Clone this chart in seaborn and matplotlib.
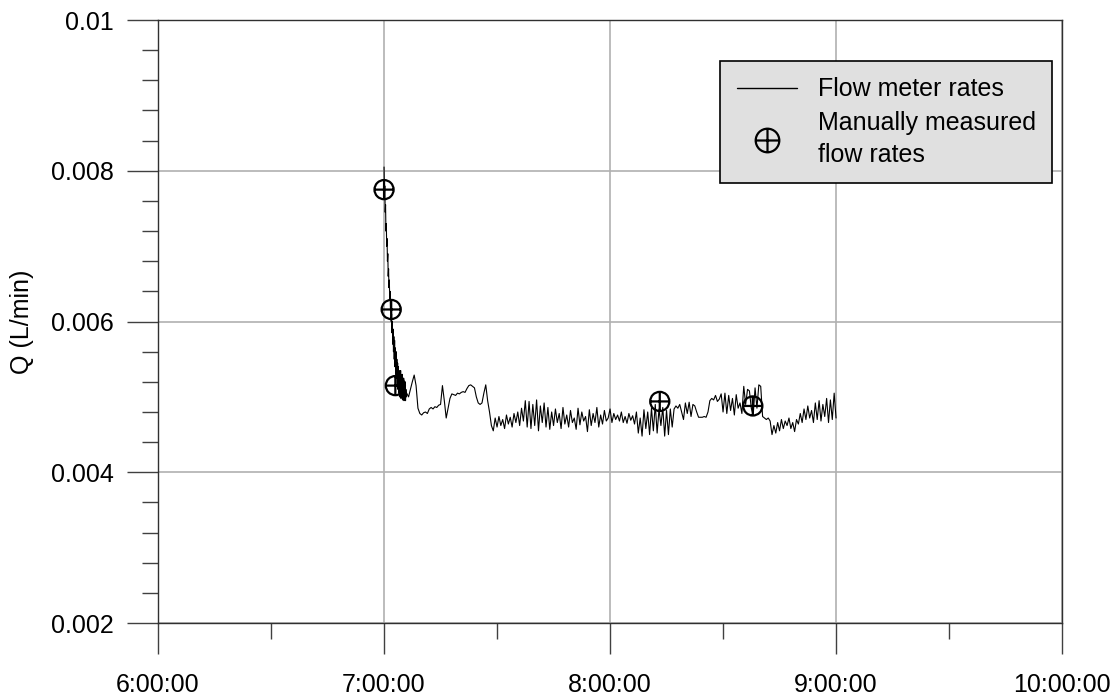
import numpy as np
import pandas as pd
import matplotlib
matplotlib.use("Agg")
import matplotlib.pyplot as plt
from matplotlib.path import Path
from matplotlib.lines import Line2D
import seaborn as sns

# ---------------- data ----------------
# flow meter: dense early samples (every 0.1 min from 7:00:00), Q in 1e-3 L/min
meter_early_step_min = 0.1
meter_early = [8.05, 7.70, 7.80, 7.45, 7.55, 7.20, 7.30, 7.00, 7.10, 6.80,
               6.90, 6.60, 6.70, 6.45, 6.55, 6.30, 6.40, 6.15, 6.25, 6.00,
               6.10, 5.85, 6.00, 5.70, 5.90, 5.60, 5.80, 5.50, 5.75, 5.40,
               5.65, 5.30, 5.60, 5.25, 5.50, 5.15, 5.45, 5.10, 5.40, 5.05,
               5.35, 5.00, 5.30, 5.05, 5.35, 4.98, 5.25, 5.02, 5.30, 4.96,
               5.20, 5.00, 5.25, 4.95, 5.15, 5.00, 5.20, 4.95, 5.10, 5.00,
               5.05]
# flow meter: later samples every 0.5 min starting 7:06:30, Q in 1e-3 L/min
meter_late_start_min = 6.5
meter_late_step_min = 0.5
meter_late = [
    5.00, 5.10, 5.20, 5.29, 5.15, 4.85, 4.78, 4.76, 4.79, 4.80,
    4.78, 4.84, 4.86, 4.84, 4.87, 4.86, 4.89, 4.90, 5.15, 4.95,
    4.72, 4.85, 4.98, 5.04, 5.03, 5.02, 5.05, 5.04, 5.06, 5.07,
    5.06, 5.11, 5.15, 5.16, 5.14, 5.12, 5.00, 4.92, 4.90, 4.92,
    5.05, 5.16, 4.95, 4.80, 4.62,
    4.55, 4.72, 4.60, 4.74, 4.62, 4.70, 4.58, 4.76, 4.64, 4.73,
    4.60, 4.78, 4.66, 4.80, 4.62, 4.85, 4.68, 4.95, 4.60,
    4.94, 4.58, 4.90, 4.62, 4.96, 4.55, 4.88, 4.66, 4.92, 4.60,
    4.86, 4.57, 4.80, 4.62,
    4.84, 4.66, 4.78, 4.58, 4.86, 4.64, 4.76, 4.60, 4.82, 4.66,
    4.72, 4.57, 4.85, 4.63, 4.80, 4.68, 4.74, 4.54, 4.83, 4.62,
    4.78, 4.66, 4.86, 4.60, 4.76, 4.64, 4.82, 4.68, 4.72,
    4.84, 4.66, 4.78, 4.70, 4.76, 4.68, 4.80, 4.66, 4.74, 4.65,
    4.78, 4.69, 4.75, 4.64,
    4.80, 4.52, 4.72, 4.48, 4.83, 4.58, 4.80, 4.50, 4.85, 4.55,
    4.90, 4.52, 4.84, 4.62, 4.86, 4.48, 4.82, 4.50, 4.84, 4.60,
    4.84, 4.88, 4.85, 4.90, 4.80, 4.70, 4.92, 4.78, 4.93, 4.74,
    4.90, 4.88, 4.80, 4.73, 4.73, 4.73, 4.74, 4.73, 4.80,
    4.95, 4.98, 4.96, 5.02, 4.94, 4.97, 5.04, 4.80, 5.05, 4.78,
    5.02, 4.82, 4.98, 4.76, 5.03, 4.85, 4.92, 4.78,
    5.14, 4.90, 5.10, 5.08, 4.85, 4.76, 5.12, 4.85, 5.16, 5.14,
    4.74,
    4.72, 4.70, 4.72, 4.68, 4.50, 4.62, 4.52, 4.66, 4.55, 4.70,
    4.58, 4.68, 4.62, 4.72, 4.58, 4.66, 4.54, 4.70, 4.64,
    4.78, 4.66, 4.84, 4.70, 4.88, 4.72, 4.82, 4.66, 4.92, 4.70,
    4.95, 4.68, 4.90, 4.74, 4.98, 4.66, 4.96, 4.70, 5.05, 4.72,
]
# manually measured flow rates (minutes after 7:00:00, Q in 1e-3 L/min)
manual_min = [0.0, 1.9, 3.0, 73.2, 97.9]
manual_q = [7.75, 6.16, 5.15, 4.94, 4.88]

x_tick_vals = [6, 7, 8, 9, 10]
x_tick_labels = ["6:00:00", "7:00:00", "8:00:00", "9:00:00", "10:00:00"]
y_tick_vals = [0.002, 0.004, 0.006, 0.008, 0.01]
y_tick_labels = ["0.002", "0.004", "0.006", "0.008", "0.01"]

# ---------------- frames ----------------
t_early = meter_early_step_min * np.arange(len(meter_early))
t_late = meter_late_start_min + meter_late_step_min * np.arange(len(meter_late))
meter = pd.DataFrame({
    "hour": 7 + np.concatenate([t_early, t_late]) / 60.0,
    "Q": np.array(meter_early + meter_late) * 1e-3,
})
manual = pd.DataFrame({
    "hour": 7 + np.array(manual_min) / 60.0,
    "Q": np.array(manual_q) * 1e-3,
})

# ---------------- style ----------------
sns.set_style("white")
plt.rcParams["font.family"] = ["Liberation Sans", "DejaVu Sans"]
plt.rcParams["font.size"] = 18
for k in ["text.color", "axes.labelcolor", "xtick.labelcolor", "ytick.labelcolor"]:
    plt.rcParams[k] = "black"

fig = plt.figure(figsize=(11.17, 6.98), dpi=100)
ax = fig.add_axes([0.1415, 0.1074, 0.8093, 0.8639])

oplus = Path.make_compound_path(
    Path.unit_circle(),
    Path([[-1, 0], [1, 0]], [Path.MOVETO, Path.LINETO]),
    Path([[0, -1], [0, 1]], [Path.MOVETO, Path.LINETO]),
)

sns.lineplot(data=meter, x="hour", y="Q", ax=ax, color="black",
             linewidth=0.8, estimator=None, sort=False, legend=False, zorder=3)
sns.scatterplot(data=manual, x="hour", y="Q", ax=ax, marker=oplus, s=190,
                facecolors="none", edgecolor="black", linewidth=1.6,
                legend=False, zorder=4)

ax.set_xlim(6, 10)
ax.set_ylim(0.002, 0.01)
ax.set_xticks(x_tick_vals)
ax.set_xticklabels(x_tick_labels)
ax.set_xticks([6.5, 7.5, 8.5, 9.5], minor=True)
ax.set_yticks(y_tick_vals)
ax.set_yticklabels(y_tick_labels)
ax.set_yticks(np.arange(0.0024, 0.01, 0.0004), minor=True)

ax.tick_params(axis="both", which="both", bottom=True, left=True,
               top=False, right=False)
ax.tick_params(axis="both", which="major", direction="out", length=22,
               width=1.0, color="#404040", labelsize=18, labelcolor="black")
ax.tick_params(axis="x", which="major", pad=14)
ax.tick_params(axis="y", which="major", pad=10)
ax.tick_params(axis="both", which="minor", direction="out", length=11.5,
               width=1.0, color="#404040")
ax.grid(True, which="major", color="#b0b0b0", linewidth=1.2)
ax.set_axisbelow(True)
for s in ax.spines.values():
    s.set_visible(True)
    s.set_color("#303030")
    s.set_linewidth(1.0)

ax.set_xlabel("")
ax.set_ylabel("Q (L/min)", fontsize=18, labelpad=12, color="black")

handles = [
    Line2D([], [], color="black", linewidth=1.0),
    Line2D([], [], linestyle="none", marker=oplus, markersize=17,
           markerfacecolor="none", markeredgecolor="black", markeredgewidth=1.6),
]
leg = ax.legend(handles, ["Flow meter rates", "Manually measured\nflow rates"],
                loc="upper right", bbox_to_anchor=(0.989, 0.932),
                fontsize=18, frameon=True, fancybox=False, framealpha=1,
                facecolor="#e0e0e0", edgecolor="black", borderpad=0.65,
                handlelength=2.4, labelspacing=0.4, handletextpad=0.85,
                borderaxespad=0.0)
leg.get_frame().set_linewidth(1.2)
for txt in leg.get_texts():
    txt.set_color("black")
    txt.set_linespacing(1.4)

fig.savefig("out.png", dpi=100)
